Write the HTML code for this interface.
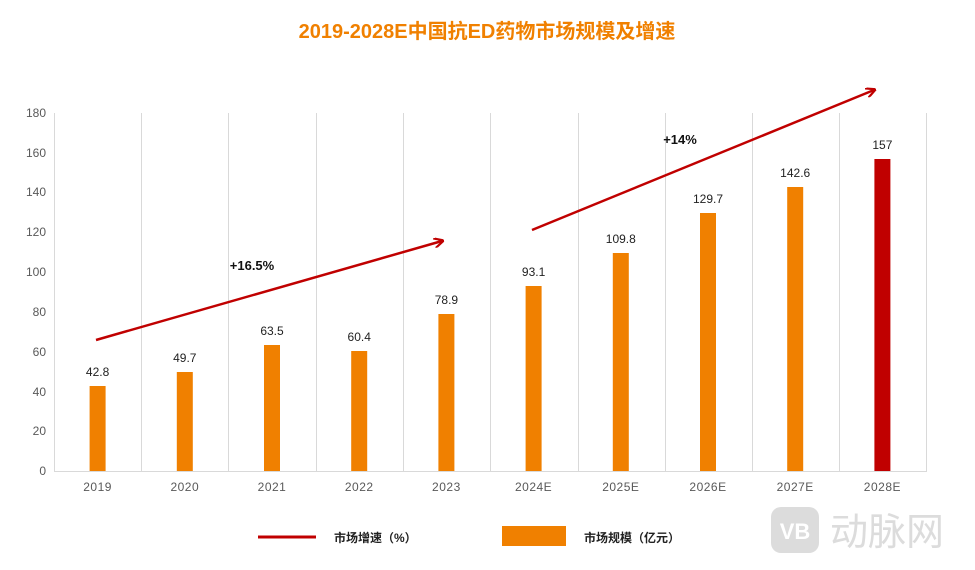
<!DOCTYPE html>
<html><head><meta charset="utf-8"><style>body{margin:0;background:#fff}</style></head><body>
<svg width="975" height="565" xmlns="http://www.w3.org/2000/svg" font-family="'Liberation Sans','Noto Sans CJK SC',sans-serif">
<defs><marker id="ar" markerWidth="10" markerHeight="10" refX="8" refY="5" orient="auto" markerUnits="userSpaceOnUse"><path d="M0,0 L10,5 L0,10" fill="none" stroke="#c00000" stroke-width="2.2"/></marker></defs>
<text x="487" y="38" text-anchor="middle" font-size="20" font-weight="bold" fill="#f08000">2019-2028E中国抗ED药物市场规模及增速</text>
<g stroke="#d9d9d9" stroke-width="1">
<line x1="54.5" y1="113" x2="54.5" y2="471"/>
<line x1="141.5" y1="113" x2="141.5" y2="471"/><line x1="228.5" y1="113" x2="228.5" y2="471"/><line x1="316.5" y1="113" x2="316.5" y2="471"/><line x1="403.5" y1="113" x2="403.5" y2="471"/><line x1="490.5" y1="113" x2="490.5" y2="471"/><line x1="578.5" y1="113" x2="578.5" y2="471"/><line x1="665.5" y1="113" x2="665.5" y2="471"/><line x1="752.5" y1="113" x2="752.5" y2="471"/><line x1="839.5" y1="113" x2="839.5" y2="471"/><line x1="926.5" y1="113" x2="926.5" y2="471"/>
<line x1="54" y1="471.5" x2="927" y2="471.5"/>
</g>
<g font-size="12" fill="#595959" text-anchor="end">
<text x="46" y="475">0</text><text x="46" y="435">20</text><text x="46" y="396">40</text><text x="46" y="356">60</text><text x="46" y="316">80</text><text x="46" y="276">100</text><text x="46" y="236">120</text><text x="46" y="196">140</text><text x="46" y="157">160</text><text x="46" y="117">180</text>
</g>
<g fill="#f08000">
<rect x="89.6" y="386" width="16" height="85"/><rect x="176.8" y="372" width="16" height="99"/><rect x="264" y="345" width="16" height="126"/><rect x="351.2" y="351" width="16" height="120"/><rect x="438.4" y="314" width="16" height="157"/><rect x="525.6" y="286" width="16" height="185"/><rect x="612.8" y="253" width="16" height="218"/><rect x="700" y="213" width="16" height="258"/><rect x="787.2" y="187" width="16" height="284"/>
</g>
<rect x="874.4" y="159" width="16" height="312" fill="#c00000"/>
<g font-size="12" fill="#222" text-anchor="middle">
<text x="97.6" y="376">42.8</text><text x="184.8" y="362">49.7</text><text x="272" y="335">63.5</text><text x="359.2" y="341">60.4</text><text x="446.4" y="304">78.9</text><text x="533.6" y="276">93.1</text><text x="620.8" y="243">109.8</text><text x="708" y="203">129.7</text><text x="795.2" y="177">142.6</text><text x="882.4" y="149">157</text>
</g>
<g font-size="12" fill="#595959" text-anchor="middle" letter-spacing="0.5">
<text x="97.6" y="491">2019</text><text x="184.8" y="491">2020</text><text x="272" y="491">2021</text><text x="359.2" y="491">2022</text><text x="446.4" y="491">2023</text><text x="533.6" y="491">2024E</text><text x="620.8" y="491">2025E</text><text x="708" y="491">2026E</text><text x="795.2" y="491">2027E</text><text x="882.4" y="491">2028E</text>
</g>
<line x1="96" y1="340" x2="442" y2="241" stroke="#c00000" stroke-width="2.5" marker-end="url(#ar)"/>
<line x1="532" y1="230" x2="874" y2="90" stroke="#c00000" stroke-width="2.5" marker-end="url(#ar)"/>
<text x="252" y="270" font-size="13" font-weight="bold" text-anchor="middle" fill="#111">+16.5%</text>
<text x="680" y="144" font-size="13" font-weight="bold" text-anchor="middle" fill="#111">+14%</text>
<line x1="258" y1="537" x2="316" y2="537" stroke="#c00000" stroke-width="3"/>
<text x="334" y="542" font-size="12" font-weight="bold" fill="#222">市场增速（%）</text>
<rect x="502" y="526" width="64" height="20" fill="#f08000"/>
<text x="584" y="542" font-size="12" font-weight="bold" fill="#222">市场规模（亿元）</text>
<rect x="771" y="507" width="48" height="46" rx="10" fill="#dcdcdc"/>
<text x="795" y="539" font-size="22" font-weight="bold" text-anchor="middle" fill="#fff">VB</text>
<text x="830" y="545" font-size="38" fill="#dcdcdc">动脉网</text>
</svg>
</body></html>
